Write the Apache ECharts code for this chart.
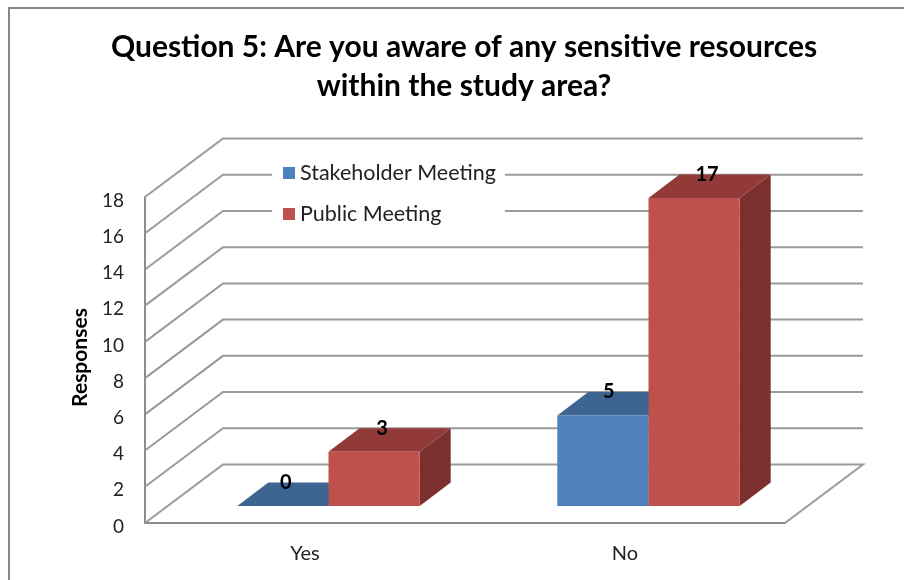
<!DOCTYPE html>
<html><head><meta charset="utf-8">
<style>html,body{margin:0;padding:0;background:#fff}#c{width:904px;height:580px}</style>
<script src="https://cdn.jsdelivr.net/npm/echarts@6/dist/echarts.min.js"></script>
</head><body><div id="c"></div>
<script>
const categories = ['Yes', 'No'];
const stakeholder = [0, 5];
const publicMeeting = [3, 17];
const gridValues = [0, 2, 4, 6, 8, 10, 12, 14, 16, 18];
const titleLines = ['Question 5: Are you aware of any sensitive resources', 'within the study area?'];
const FONT = 'Lato, "Open Sans", sans-serif';
const GRID = '#9a9a9a';
const WALL = {dx: 78, dy: -58.5};
const BAR = {dx: 31, dy: -23.5, shiftX: 23.5, shiftY: -17};

const chart = echarts.init(document.getElementById('c'), null, {renderer: 'canvas'});

function wallItem(params, api) {
  const r = params.coordSys;
  const y = api.coord([0, api.value(0)])[1];
  const left = r.x, right = r.x + r.width;
  const pts = [[left, y], [left + WALL.dx, y + WALL.dy], [right + WALL.dx, y + WALL.dy]];
  if (api.value(0) === 0) pts.push([right, y]);
  return {type: 'polyline', shape: {points: pts}, style: {stroke: GRID, lineWidth: 2, fill: null}, silent: true};
}

function barRender(seriesIndex, colors) {
  return function (params, api) {
    const cat = api.value(0), val = api.value(1);
    const band = api.size([1, 0])[0];
    const w = band * 0.285;
    const p = api.coord([cat, val]);
    const p0 = api.coord([cat, 0]);
    const split = p[0] + BAR.shiftX;
    const x0 = seriesIndex === 0 ? split - w : split;
    const x1 = x0 + w;
    const top = p[1] + BAR.shiftY, base = p0[1] + BAR.shiftY;
    const d = BAR;
    const labelDx = (seriesIndex === 0 ? 3 : 8) + cat * (seriesIndex === 0 ? 3 : 5);
    return {type: 'group', children: [
      {type: 'polygon', shape: {points: [[x1, top], [x1 + d.dx, top + d.dy], [x1 + d.dx, base + d.dy], [x1, base]]}, style: {fill: colors.side}},
      {type: 'polygon', shape: {points: [[x0, top], [x1, top], [x1 + d.dx, top + d.dy], [x0 + d.dx, top + d.dy]]}, style: {fill: colors.top}},
      {type: 'rect', shape: {x: x0, y: top, width: w, height: base - top}, style: {fill: colors.front}},
      {type: 'text', z2: 10, style: {text: String(val), x: (x0 + x1) / 2 + labelDx, y: top - 23.5, align: 'center', verticalAlign: 'middle', fill: '#000', font: 'bold 20px ' + FONT}}
    ]};
  };
}

chart.setOption({
  animation: false,
  backgroundColor: '#fff',
  title: {
    text: titleLines.join('\n'), left: 459, top: 23, textAlign: 'center',
    textStyle: {fontFamily: FONT, fontWeight: 'bold', fontSize: 30, lineHeight: 39, color: '#000'}
  },
  grid: {left: 145, right: 119, top: 197, bottom: 57},
  legend: {
    orient: 'vertical', left: 272, top: 156, padding: [6, 9, 6, 11], itemGap: 19,
    itemWidth: 12, itemHeight: 12, icon: 'rect', backgroundColor: '#fff', z: 20,
    textStyle: {fontFamily: FONT, fontSize: 21.5, color: '#222', padding: [0, 0, 0, 0]},
    data: ['Stakeholder Meeting', 'Public Meeting']
  },
  xAxis: {
    type: 'category', data: categories,
    axisLine: {lineStyle: {color: '#8c8c8c', width: 2}}, axisTick: {show: false},
    axisLabel: {fontFamily: FONT, fontSize: 20, color: '#222', margin: 21}
  },
  yAxis: {
    type: 'value', min: 0, max: 18, interval: 2,
    name: 'Responses', nameLocation: 'middle', nameGap: 54, nameRotate: 90,
    nameTextStyle: {fontFamily: FONT, fontWeight: 'bold', fontSize: 21, color: '#000', padding: [0, 0, 0, 5]},
    axisLine: {show: true, lineStyle: {color: '#8c8c8c', width: 2}}, axisTick: {show: false},
    splitLine: {show: false},
    axisLabel: {fontFamily: FONT, fontSize: 19, color: '#222', margin: 21, verticalAlign: 'top', lineHeight: 7}
  },
  series: [
    {type: 'custom', name: 'walls', silent: true, z: 1, data: gridValues.map(v => [v]), encode: {y: 0}, renderItem: wallItem},
    {type: 'custom', name: 'Stakeholder Meeting', z: 2, itemStyle: {color: '#4F81BD'},
      data: stakeholder.map((v, i) => [i, v]), encode: {x: 0, y: 1},
      renderItem: barRender(0, {front: '#4F81BD', top: '#3E6591', side: '#385D8A'})},
    {type: 'custom', name: 'Public Meeting', z: 3, itemStyle: {color: '#C0504D'},
      data: publicMeeting.map((v, i) => [i, v]), encode: {x: 0, y: 1},
      renderItem: barRender(1, {front: '#C0504D', top: '#913A38', side: '#7B302F'})}
  ],
  graphic: [{type: 'polyline', silent: true, z: 30,
    shape: {points: [[9, 580], [9, 8], [904, 8]]},
    style: {stroke: '#868686', lineWidth: 2, fill: null}}]
});
</script></body></html>
